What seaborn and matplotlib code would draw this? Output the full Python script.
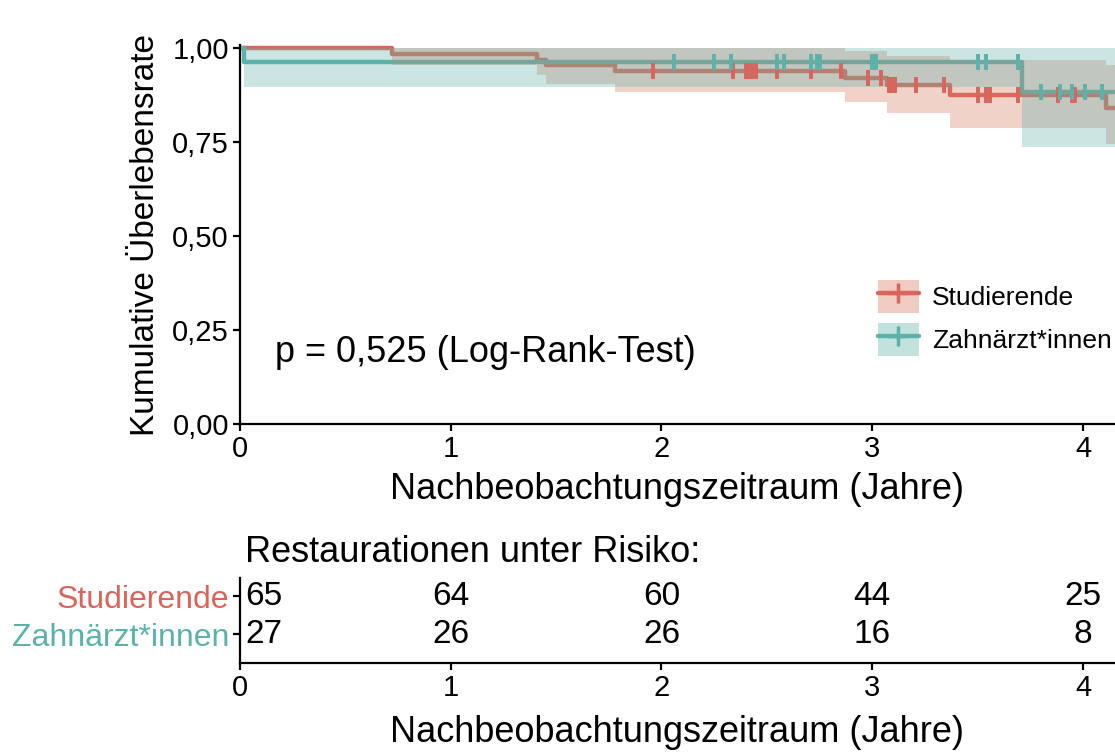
import numpy as np
import pandas as pd
import matplotlib
matplotlib.use("Agg")
import matplotlib.pyplot as plt
from matplotlib.patches import Patch
from matplotlib.lines import Line2D
import seaborn as sns

# Kaplan-Meier steps (time in years)
GROUPS = ["Studierende", "Zahnärzt*innen"]
COLORS = {"Studierende": "#D8655B", "Zahnärzt*innen": "#5DB1AB"}
BAND_COLORS = {"Studierende": "#D6775C", "Zahnärzt*innen": "#62B3AA"}

stud_times = [0.0, 0.72, 1.41, 1.45, 1.78, 2.87, 3.07, 3.37, 4.11]
stud_surv = [1.000, 0.985, 0.969, 0.954, 0.938, 0.920, 0.901, 0.875, 0.840]
stud_lower = [1.000, 0.955, 0.928, 0.904, 0.882, 0.856, 0.827, 0.787, 0.745]
stud_upper = [1.000, 1.000, 1.000, 1.000, 1.000, 0.992, 0.979, 0.968, 0.955]
stud_censor = [1.96, 2.34, 2.40, 2.41, 2.43, 2.45, 2.55, 2.71, 2.85, 2.98, 3.04,
               3.08, 3.09, 3.11, 3.21, 3.34, 3.50, 3.54, 3.56, 3.69, 3.88, 3.95, 3.96]

zahn_times = [0.0, 0.02, 3.71]
zahn_surv = [1.000, 0.963, 0.883]
zahn_lower = [1.000, 0.897, 0.737]
zahn_upper = [1.000, 1.000, 1.000]
zahn_censor = [2.06, 2.25, 2.33, 2.55, 2.58, 2.71, 2.74, 2.75, 3.00, 3.02, 3.50,
               3.54, 3.69, 3.80, 3.89, 3.95, 4.01, 4.09]

FOLLOW_UP_END = 4.4

# numbers at risk
risk_years = [0, 1, 2, 3, 4]
risk_stud = [65, 64, 60, 44, 25]
risk_zahn = [27, 26, 26, 16, 8]

P_TEXT = "p = 0,525 (Log-Rank-Test)"


def step_frame(group, times, surv, lower, upper):
    df = pd.DataFrame({"time": times + [FOLLOW_UP_END],
                       "surv": surv + [surv[-1]],
                       "lower": lower + [lower[-1]],
                       "upper": upper + [upper[-1]]})
    df["group"] = group
    return df


def surv_at(times, surv, t):
    idx = np.searchsorted(np.array(times), np.array(t), side="right") - 1
    return np.array(surv)[idx]


curves = pd.concat([
    step_frame("Studierende", stud_times, stud_surv, stud_lower, stud_upper),
    step_frame("Zahnärzt*innen", zahn_times, zahn_surv, zahn_lower, zahn_upper),
], ignore_index=True)

censors = pd.concat([
    pd.DataFrame({"time": stud_censor, "surv": surv_at(stud_times, stud_surv, stud_censor),
                  "group": "Studierende"}),
    pd.DataFrame({"time": zahn_censor, "surv": surv_at(zahn_times, zahn_surv, zahn_censor),
                  "group": "Zahnärzt*innen"}),
], ignore_index=True)

sns.set_theme(style="ticks")
plt.rcParams["font.family"] = ["Liberation Sans", "DejaVu Sans"]
plt.rcParams["axes.linewidth"] = 1.6
for key in ["text.color", "axes.labelcolor", "xtick.color", "ytick.color", "axes.edgecolor"]:
    plt.rcParams[key] = "black"

W, H = 1115, 753
fig = plt.figure(figsize=(W / 100, H / 100), dpi=100)

XMAX = 4.152
ax = fig.add_axes([240 / W, (H - 424) / H, 875 / W, 379 / H])
ax_t = fig.add_axes([240 / W, (H - 663) / H, 875 / W, 85 / H])

# --- survival curves ---
sns.lineplot(data=curves, x="time", y="surv", hue="group", palette=COLORS,
             drawstyle="steps-post", estimator=None, linewidth=3.2,
             legend=False, ax=ax, zorder=2)
for g in GROUPS:
    d = curves[curves["group"] == g]
    ax.fill_between(d["time"], d["lower"], d["upper"], step="post",
                    color=BAND_COLORS[g], alpha=0.33, linewidth=0, zorder=3)
    c = censors[censors["group"] == g]
    ax.plot(c["time"], c["surv"], ls="none", marker="|", markersize=12,
            mew=2.8, color=COLORS[g], zorder=4)

ax.set_xlim(0, XMAX)
ax.set_ylim(0, 1.008)
ax.set_xticks(risk_years)
ax.set_yticks([0, 0.25, 0.5, 0.75, 1.0])
ax.set_yticklabels(["0,00", "0,25", "0,50", "0,75", "1,00"])
ax.tick_params(axis="both", labelsize=21, length=5, width=1.6, pad=3, color="black")
ax.set_xlabel("Nachbeobachtungszeitraum (Jahre)", fontsize=26)
ax.xaxis.set_label_coords(0.5, -0.174)
ax.xaxis.label.set_va("center")
ax.set_ylabel("Kumulative Überlebensrate", fontsize=24)
ax.yaxis.set_label_coords(-0.108, 0.5)
ax.yaxis.label.set_va("center")
sns.despine(ax=ax)

ax.text(0.166, 0.19, P_TEXT, fontsize=26, ha="left", va="center")

handles = [(Patch(facecolor=BAND_COLORS[g], alpha=0.38, linewidth=0),
            Line2D([], [], color=COLORS[g], lw=3.2, marker="+", markersize=15, mew=2.5))
           for g in GROUPS]
ax.legend(handles, GROUPS, loc="upper left", bbox_to_anchor=(878 / W, 1 - 280 / H),
          bbox_transform=fig.transFigure, frameon=False, fontsize=19, numpoints=1,
          handlelength=1.55, handleheight=1.55, labelspacing=0.38, handletextpad=0.5,
          borderpad=0, borderaxespad=0)

# --- risk table ---
rows = {"Studierende": 2, "Zahnärzt*innen": 1}
for g, vals in [("Studierende", risk_stud), ("Zahnärzt*innen", risk_zahn)]:
    for yr, v in zip(risk_years, vals):
        if yr == 0:
            ax_t.text(yr + 0.025, rows[g], str(v), fontsize=24, ha="left", va="center")
        else:
            ax_t.text(yr, rows[g], str(v), fontsize=24, ha="center", va="center")

ax_t.set_xlim(0, XMAX)
ax_t.set_ylim(0.237, 2.474)
ax_t.set_xticks(risk_years)
ax_t.set_yticks([rows[g] for g in GROUPS])
ax_t.set_yticklabels(GROUPS)
for lab, g in zip(ax_t.get_yticklabels(), GROUPS):
    lab.set_color(COLORS[g])
ax_t.tick_params(axis="y", labelsize=23, length=5, width=1.6, pad=3)
ax_t.tick_params(axis="x", labelsize=21, length=5, width=1.6, pad=3)
ax_t.set_xlabel("Nachbeobachtungszeitraum (Jahre)", fontsize=26)
ax_t.xaxis.set_label_coords(0.5, -0.8235)
ax_t.xaxis.label.set_va("center")
sns.despine(ax=ax_t)

fig.text(245 / W, 1 - 553 / H, "Restaurationen unter Risiko:", fontsize=26,
         ha="left", va="center")

fig.savefig("out.png", dpi=100)
